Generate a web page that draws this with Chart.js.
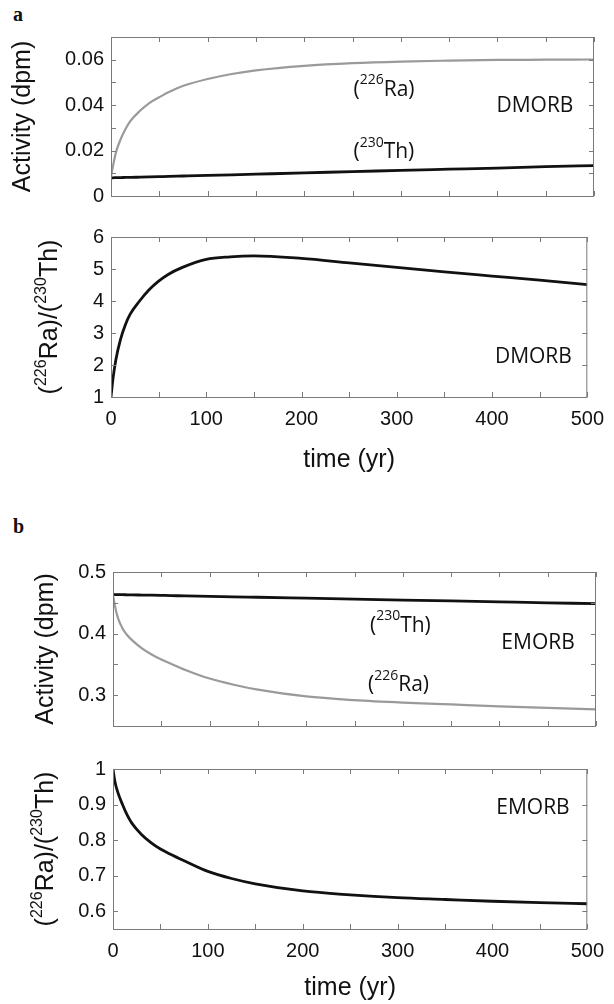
<!DOCTYPE html>
<html>
<head>
<meta charset="utf-8">
<script src="https://cdn.jsdelivr.net/npm/chart.js@4.4.1/dist/chart.umd.min.js"></script>
<style>
  body { margin: 0; background: #fff; }
  #wrap { position: relative; width: 614px; height: 1004px; }
  canvas { position: absolute; left: 0; }
  .panel { position: absolute; left: 13px; font: bold 20px "Liberation Serif", "Times New Roman", serif; line-height: 20px; color: #111; }
</style>
</head>
<body>
<div id="wrap">
  <div class="panel" style="top:4px">a</div>
  <div class="panel" style="top:516px">b</div>
  <canvas id="c1" width="614" height="215" style="top:0px"></canvas>
  <canvas id="c2" width="614" height="285" style="top:215px"></canvas>
  <canvas id="c3" width="614" height="245" style="top:500px"></canvas>
  <canvas id="c4" width="614" height="259" style="top:745px"></canvas>
</div>
<script>
// time axis shared by every curve (yr)
const years = [0, 2, 5, 10, 15, 20, 30, 40, 50, 60, 75, 100, 125, 150, 200, 250, 300, 350, 400, 450, 500];

// a: DMORB
const dmorbRa = [0.0085, 0.013, 0.019, 0.025, 0.0295, 0.033, 0.0375, 0.041, 0.0435, 0.0458, 0.0485, 0.0515, 0.0537, 0.0553, 0.0573, 0.0585, 0.0592, 0.0596, 0.0599, 0.0600, 0.0601];
const dmorbTh = [0.0080, 0.0080, 0.0081, 0.0081, 0.0082, 0.0082, 0.0083, 0.0084, 0.0085, 0.0086, 0.0088, 0.0091, 0.0093, 0.0096, 0.0102, 0.0107, 0.0113, 0.0118, 0.0123, 0.0129, 0.0134];
const dmorbRatio = [1.0, 1.55, 2.15, 2.8, 3.25, 3.58, 4.0, 4.35, 4.62, 4.83, 5.05, 5.3, 5.38, 5.41, 5.33, 5.19, 5.05, 4.91, 4.78, 4.65, 4.51];

// b: EMORB
const emorbRa = [0.463, 0.445, 0.426, 0.408, 0.397, 0.389, 0.376, 0.366, 0.358, 0.351, 0.341, 0.327, 0.317, 0.309, 0.298, 0.292, 0.288, 0.285, 0.282, 0.2795, 0.277];
const emorbTh = [0.4635, 0.4634, 0.4633, 0.4632, 0.4630, 0.4629, 0.4626, 0.4623, 0.4620, 0.4617, 0.4612, 0.4605, 0.4597, 0.4590, 0.4575, 0.4560, 0.4545, 0.4530, 0.4515, 0.4500, 0.4485];
const emorbRatio = [1.0, 0.965, 0.935, 0.9, 0.87, 0.847, 0.816, 0.793, 0.775, 0.761, 0.742, 0.712, 0.692, 0.677, 0.657, 0.646, 0.638, 0.633, 0.628, 0.624, 0.621];

// axis ranges, tick values and tick labels
const xRange = [0, 500];
const xTicks = [0, 50, 100, 150, 200, 250, 300, 350, 400, 450, 500];
const xLabels = ['0', '', '100', '', '200', '', '300', '', '400', '', '500'];

const actRangeA = [0, 0.07];
const actTicksA = [0, 0.01, 0.02, 0.03, 0.04, 0.05, 0.06, 0.07];
const actLabelsA = ['0', '', '0.02', '', '0.04', '', '0.06', ''];

const ratioRangeA = [1, 6];
const ratioTicksA = [1, 2, 3, 4, 5, 6];
const ratioLabelsA = ['1', '2', '3', '4', '5', '6'];

const actRangeB = [0.25, 0.5];
const actTicksB = [0.25, 0.3, 0.35, 0.4, 0.45, 0.5];
const actLabelsB = ['', '0.3', '', '0.4', '', '0.5'];

const ratioRangeB = [0.55, 1];
const ratioTicksB = [0.6, 0.7, 0.8, 0.9, 1];
const ratioLabelsB = ['0.6', '0.7', '0.8', '0.9', '1'];

// text pieces: [string, isSuperscript]
const raText = [['(', 0], ['226', 1], ['Ra)', 0]];
const thText = [['(', 0], ['230', 1], ['Th)', 0]];
const ratioTitle = [['(', 0], ['226', 1], ['Ra)/(', 0], ['230', 1], ['Th)', 0]];
const actTitle = [['Activity (dpm)', 0]];
const timeTitle = [['time (yr)', 0]];

const SANS = '"Liberation Sans", Arial, Helvetica, sans-serif';
const NOTE = '"Open Sans", "Noto Sans", sans-serif';

function pts(ys) {
  return years.map((t, i) => ({ x: t, y: ys[i] }));
}

function drawRich(ctx, parts, size, family, x, y, center) {
  const sup = Math.round(size * 0.65);
  let w = 0;
  const widths = parts.map(p => {
    ctx.font = (p[1] ? sup : size) + 'px ' + family;
    const m = ctx.measureText(p[0]).width;
    w += m;
    return m;
  });
  let cx = center ? x - w / 2 : x;
  ctx.textAlign = 'left';
  parts.forEach((p, i) => {
    ctx.font = (p[1] ? sup : size) + 'px ' + family;
    ctx.fillText(p[0], cx, p[1] ? y - size * 0.44 : y);
    cx += widths[i];
  });
}

function decor(cfg) {
  return {
    id: 'decor',
    afterDraw(chart) {
      const ctx = chart.ctx;
      const a = chart.chartArea;
      const xs = chart.scales.x, ys = chart.scales.y;
      ctx.save();
      // box
      ctx.strokeStyle = '#7a7a7a';
      ctx.lineWidth = 1;
      ctx.strokeRect(a.left + 0.5, a.top + 0.5, a.right - a.left - 1, a.bottom - a.top);
      // inward ticks on all sides
      ctx.beginPath();
      xs.ticks.forEach(t => {
        const px = Math.round(xs.getPixelForValue(t.value)) + 0.5;
        ctx.moveTo(px, a.top); ctx.lineTo(px, a.top + 5);
        ctx.moveTo(px, a.bottom); ctx.lineTo(px, a.bottom - 5);
      });
      ys.ticks.forEach(t => {
        const py = Math.round(ys.getPixelForValue(t.value)) + 0.5;
        ctx.moveTo(a.left, py); ctx.lineTo(a.left + 5, py);
        ctx.moveTo(a.right, py); ctx.lineTo(a.right - 5, py);
      });
      ctx.stroke();
      // y title (rotated)
      ctx.fillStyle = '#111';
      ctx.textBaseline = 'alphabetic';
      ctx.save();
      ctx.translate(cfg.yTitleX, (a.top + a.bottom) / 2);
      ctx.rotate(-Math.PI / 2);
      drawRich(ctx, cfg.yTitle, 25, SANS, 0, 0, true);
      ctx.restore();
      // x title
      if (cfg.xTitle) {
        ctx.textBaseline = 'middle';
        drawRich(ctx, cfg.xTitle, 25, SANS, (a.left + a.right) / 2, a.bottom + cfg.xTitleDy, true);
      }
      // curve labels
      ctx.textBaseline = 'middle';
      cfg.notes.forEach(n => {
        const parts = typeof n.text === 'string' ? [[n.text, 0]] : n.text;
        drawRich(ctx, parts, 21, NOTE, xs.getPixelForValue(n.x), ys.getPixelForValue(n.y), false);
      });
      ctx.restore();
    }
  };
}

function makeChart(id, cfg) {
  const canvas = document.getElementById(id);
  return new Chart(canvas, {
    type: 'line',
    data: {
      datasets: cfg.series.map(s => ({
        data: pts(s.values),
        borderColor: s.color,
        borderWidth: s.width,
        pointRadius: 0,
        fill: false,
        cubicInterpolationMode: 'monotone'
      }))
    },
    options: {
      responsive: false,
      animation: false,
      events: [],
      layout: { padding: { top: cfg.top, right: 614 - cfg.right, left: 0, bottom: 0 } },
      plugins: { legend: { display: false }, tooltip: { enabled: false } },
      scales: {
        x: {
          type: 'linear',
          min: xRange[0], max: xRange[1],
          grid: { display: false, drawTicks: false },
          border: { display: false },
          afterBuildTicks(s) { s.ticks = xTicks.map(v => ({ value: v })); },
          afterFit(s) { s.height = canvas.height - cfg.bottom; },
          ticks: {
            display: cfg.showX,
            autoSkip: false,
            maxRotation: 0,
            padding: 10,
            color: '#111',
            font: { family: SANS, size: 20 },
            callback: (v, i) => xLabels[i]
          }
        },
        y: {
          min: cfg.yRange[0], max: cfg.yRange[1],
          grid: { display: false, drawTicks: false },
          border: { display: false },
          afterBuildTicks(s) { s.ticks = cfg.yTicks.map(v => ({ value: v })); },
          afterFit(s) { s.width = cfg.left; },
          ticks: {
            autoSkip: false,
            padding: 7,
            color: '#111',
            font: { family: SANS, size: 20 },
            callback: (v, i) => cfg.yLabels[i]
          }
        }
      }
    },
    plugins: [decor(cfg)]
  });
}

const gray = '#9a9a9a', black = '#111';

makeChart('c1', {
  top: 37, bottom: 197, left: 111, right: 594,
  yRange: actRangeA, yTicks: actTicksA, yLabels: actLabelsA, showX: false,
  series: [{ values: dmorbRa, color: gray, width: 2.2 }, { values: dmorbTh, color: black, width: 2.8 }],
  yTitle: actTitle, yTitleX: 30,
  notes: [{ text: raText, x: 251, y: 0.0468 }, { text: thText, x: 251, y: 0.0193 }, { text: 'DMORB', x: 399, y: 0.0394 }]
});

makeChart('c2', {
  top: 22, bottom: 182, left: 111, right: 594,
  yRange: ratioRangeA, yTicks: ratioTicksA, yLabels: ratioLabelsA, showX: true,
  series: [{ values: dmorbRatio, color: black, width: 2.8 }],
  yTitle: ratioTitle, yTitleX: 57,
  xTitle: timeTitle, xTitleDy: 63,
  notes: [{ text: 'DMORB', x: 403, y: 2.25 }]
});

makeChart('c3', {
  top: 72, bottom: 230, left: 113, right: 596,
  yRange: actRangeB, yTicks: actTicksB, yLabels: actLabelsB, showX: false,
  series: [{ values: emorbRa, color: gray, width: 2.2 }, { values: emorbTh, color: black, width: 2.8 }],
  yTitle: actTitle, yTitleX: 53,
  notes: [{ text: thText, x: 266, y: 0.413 }, { text: 'EMORB', x: 402, y: 0.3845 }, { text: raText, x: 264, y: 0.3165 }]
});

makeChart('c4', {
  top: 24, bottom: 184, left: 113, right: 595,
  yRange: ratioRangeB, yTicks: ratioTicksB, yLabels: ratioLabelsB, showX: true,
  series: [{ values: emorbRatio, color: black, width: 2.8 }],
  yTitle: ratioTitle, yTitleX: 53,
  xTitle: timeTitle, xTitleDy: 59,
  notes: [{ text: 'EMORB', x: 404, y: 0.89 }]
});
</script>
</body>
</html>
